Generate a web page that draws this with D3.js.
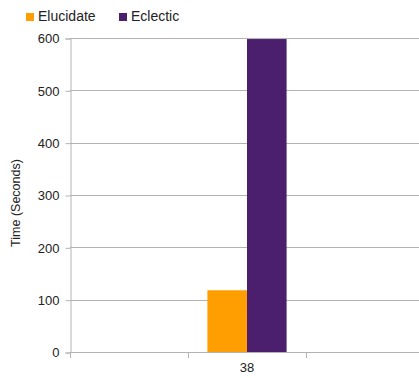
<!DOCTYPE html>
<html>
<head>
<meta charset="utf-8">
<script src="https://cdn.jsdelivr.net/npm/d3@7"></script>
<style>
body { margin: 0; background: #fff; }
svg { display: block; font-family: "Liberation Sans", Arial, sans-serif; }
</style>
</head>
<body>
<div id="chart"></div>
<script>
var categories = ['', '38', ' '];
var seriesNames = ['Elucidate', 'Eclectic'];
var elucidate = [null, 118, null];
var eclectic = [null, 598, null];
var yTicks = [0, 100, 200, 300, 400, 500, 600];
var colors = ['#ff9e00', '#4c1e6e'];

var width = 419;
var height = 378;
var padLeft = 70;
var padTop = 38;
var padBottom = 352;

var svg = d3.select('#chart')
	.append('svg')
	.attr('width', width)
	.attr('height', height);

var x = d3.scaleBand()
	.domain(categories)
	.range([padLeft, 424]);

var x1 = d3.scaleBand()
	.domain(seriesNames)
	.range([0, x.bandwidth()])
	.paddingOuter(0.49)
	.paddingInner(0);

var y = d3.scaleLinear()
	.domain([0, 600])
	.range([padBottom, padTop]);

// grid
svg.append('g')
	.selectAll('line')
	.data(yTicks)
	.enter()
	.append('line')
	.attr('x1', padLeft)
	.attr('x2', width)
	.attr('y1', function(d) { return Math.round(y(d)) + 0.5; })
	.attr('y2', function(d) { return Math.round(y(d)) + 0.5; })
	.attr('stroke', '#b3b3b3');

// y axis
var yAxis = d3.axisLeft(y)
	.tickValues(yTicks)
	.tickSize(5)
	.tickPadding(6);

var gy = svg.append('g')
	.attr('transform', 'translate(' + (padLeft + 0.5) + ', 0.5)')
	.call(yAxis);
gy.select('.domain').attr('stroke', '#b3b3b3');
gy.selectAll('.tick line').attr('stroke', '#b3b3b3');
gy.selectAll('.tick text')
	.attr('fill', '#222')
	.style('font-size', '13px')
	.style('font-family', '"Liberation Sans", Arial, sans-serif');

// bars
var data = categories.map(function(c, i) {
	return { cat: c, values: [elucidate[i], eclectic[i]] };
});

var groups = svg.append('g')
	.selectAll('g')
	.data(data)
	.enter()
	.append('g')
	.attr('transform', function(d) { return 'translate(' + x(d.cat) + ', 0)'; });

groups.selectAll('rect')
	.data(function(d) {
		return d.values.map(function(v, i) { return { name: seriesNames[i], value: v, i: i }; })
			.filter(function(e) { return e.value != null; });
	})
	.enter()
	.append('rect')
	.attr('x', function(d) { return x1(d.name); })
	.attr('width', x1.bandwidth())
	.attr('y', function(d) { return y(d.value); })
	.attr('height', function(d) { return y(0) - y(d.value); })
	.attr('fill', function(d) { return colors[d.i]; });

// x axis
var bounds = categories.map(function(c) { return x(c); });
svg.append('g')
	.selectAll('line')
	.data(bounds)
	.enter()
	.append('line')
	.attr('x1', function(d) { return Math.round(d) + 0.5; })
	.attr('x2', function(d) { return Math.round(d) + 0.5; })
	.attr('y1', padBottom)
	.attr('y2', padBottom + 6)
	.attr('stroke', '#b3b3b3');

svg.append('g')
	.selectAll('text')
	.data(categories)
	.enter()
	.append('text')
	.attr('x', function(d) { return x(d) + x.bandwidth() / 2; })
	.attr('y', padBottom + 20)
	.attr('text-anchor', 'middle')
	.attr('fill', '#222')
	.style('font-size', '13px')
	.text(function(d) { return d; });

// y title
svg.append('text')
	.attr('transform', 'translate(20, 203) rotate(-90)')
	.attr('text-anchor', 'middle')
	.attr('fill', '#222')
	.style('font-size', '12.5px')
	.text('Time (Seconds)');

// legend
var legendX = [26, 119];
var legend = svg.append('g')
	.selectAll('g')
	.data(seriesNames)
	.enter()
	.append('g')
	.attr('transform', function(d, i) { return 'translate(' + legendX[i] + ', 12)'; });

legend.append('rect')
	.attr('width', 8)
	.attr('height', 8)
	.attr('y', 1)
	.attr('fill', function(d, i) { return colors[i]; });

legend.append('text')
	.attr('x', 12)
	.attr('y', 9)
	.attr('fill', '#222')
	.style('font-size', '14px')
	.text(function(d) { return d; });
</script>
</body>
</html>
